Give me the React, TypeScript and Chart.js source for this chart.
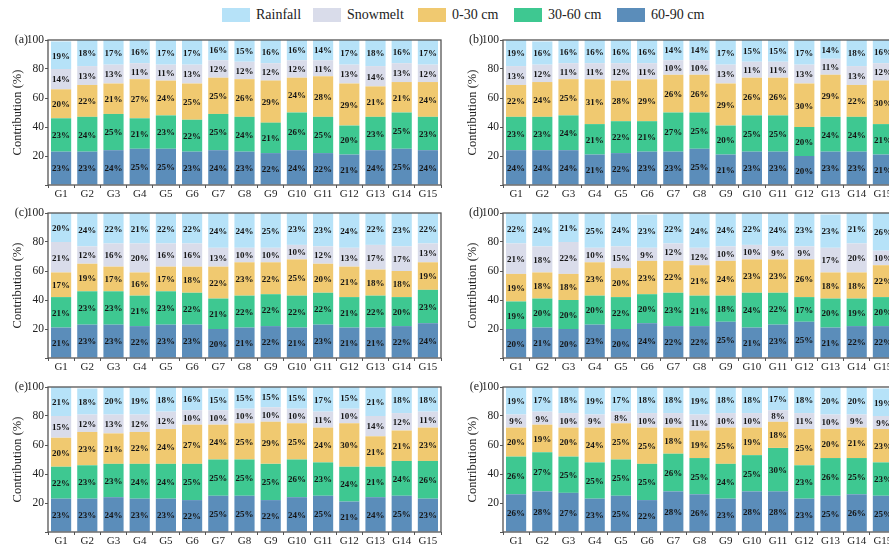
import React, { useEffect, useRef } from "react";
import { Chart, registerables } from "chart.js";

Chart.register(...registerables);

const categories = ["G1", "G2", "G3", "G4", "G5", "G6", "G7", "G8", "G9", "G10", "G11", "G12", "G13", "G14", "G15"];
const seriesNames = ["Rainfall", "Snowmelt", "0-30 cm", "30-60 cm", "60-90 cm"];
const seriesColors = ["#b6e2f8", "#d9dcea", "#f0c970", "#3ec891", "#5b8dba"];
const yTickStep = 10;

// Panel (a)
const aRainfall = [19, 18, 17, 16, 17, 17, 16, 15, 16, 16, 14, 17, 18, 16, 17];
const aSnowmelt = [14, 13, 13, 11, 11, 13, 12, 12, 12, 12, 11, 13, 14, 13, 12];
const aLayer0_30 = [20, 22, 21, 27, 24, 25, 25, 26, 29, 24, 28, 29, 21, 21, 24];
const aLayer30_60 = [23, 24, 25, 21, 23, 22, 25, 24, 21, 26, 25, 20, 23, 25, 23];
const aLayer60_90 = [23, 23, 24, 25, 25, 23, 24, 23, 22, 24, 22, 21, 24, 25, 24];

// Panel (b)
const bRainfall = [19, 16, 16, 16, 16, 16, 14, 14, 17, 15, 15, 17, 14, 18, 16];
const bSnowmelt = [13, 12, 11, 11, 12, 11, 10, 10, 13, 11, 11, 13, 11, 13, 12];
const bLayer0_30 = [22, 24, 25, 31, 28, 29, 26, 26, 29, 26, 26, 30, 29, 22, 30];
const bLayer30_60 = [23, 23, 24, 21, 22, 21, 27, 25, 20, 25, 25, 20, 24, 24, 21];
const bLayer60_90 = [24, 24, 24, 21, 22, 23, 23, 25, 21, 23, 23, 20, 23, 23, 21];

// Panel (c)
const cRainfall = [20, 24, 22, 21, 22, 22, 24, 24, 25, 23, 23, 24, 22, 23, 22];
const cSnowmelt = [21, 12, 16, 20, 16, 16, 13, 10, 10, 10, 12, 13, 17, 17, 13];
const cLayer0_30 = [17, 19, 17, 16, 17, 18, 22, 23, 22, 25, 20, 21, 18, 18, 19];
const cLayer30_60 = [21, 23, 23, 21, 23, 22, 21, 22, 22, 22, 22, 21, 22, 20, 23];
const cLayer60_90 = [21, 23, 23, 22, 23, 23, 20, 21, 22, 21, 23, 21, 21, 22, 24];

// Panel (d)
const dRainfall = [22, 24, 21, 25, 24, 23, 22, 24, 24, 22, 24, 23, 23, 21, 26];
const dSnowmelt = [21, 18, 22, 10, 15, 9, 12, 12, 10, 10, 9, 9, 17, 20, 10];
const dLayer0_30 = [19, 18, 18, 23, 20, 23, 22, 21, 24, 23, 23, 26, 18, 18, 22];
const dLayer30_60 = [19, 20, 20, 20, 22, 20, 23, 21, 18, 24, 22, 17, 20, 19, 20];
const dLayer60_90 = [20, 21, 20, 23, 20, 24, 22, 22, 25, 21, 23, 25, 21, 22, 22];

// Panel (e) left
const eRainfall = [21, 18, 20, 19, 18, 16, 15, 15, 15, 15, 17, 15, 21, 18, 18];
const eSnowmelt = [15, 12, 13, 12, 12, 10, 10, 10, 10, 10, 11, 10, 14, 12, 11];
const eLayer0_30 = [20, 23, 21, 22, 24, 27, 24, 25, 29, 25, 24, 30, 21, 21, 23];
const eLayer30_60 = [22, 23, 23, 24, 24, 25, 25, 25, 25, 26, 23, 24, 21, 24, 26];
const eLayer60_90 = [23, 23, 24, 23, 23, 22, 25, 25, 22, 24, 25, 21, 24, 25, 23];

// Panel (e) right
const fRainfall = [19, 17, 18, 19, 17, 18, 18, 19, 18, 18, 17, 18, 20, 20, 19];
const fSnowmelt = [9, 9, 10, 9, 8, 10, 10, 11, 10, 10, 8, 11, 10, 9, 9];
const fLayer0_30 = [20, 19, 20, 24, 25, 25, 18, 19, 25, 19, 18, 25, 20, 21, 23];
const fLayer30_60 = [26, 27, 25, 25, 25, 25, 26, 25, 24, 25, 30, 23, 26, 25, 23];
const fLayer60_90 = [26, 28, 27, 23, 25, 22, 28, 26, 23, 28, 28, 23, 25, 26, 25];

const SERIF = "'Liberation Serif', 'Times New Roman', serif";

const panelDecor = {
  id: "panelDecor",
  afterDatasetsDraw(chart: any) {
    const ctx = chart.ctx;
    ctx.save();
    ctx.font = `bold 9px ${SERIF}`;
    ctx.fillStyle = "#151515";
    ctx.textAlign = "center";
    ctx.textBaseline = "middle";
    chart.data.datasets.forEach((ds: any, i: number) => {
      const meta = chart.getDatasetMeta(i);
      meta.data.forEach((el: any, j: number) => {
        const p = el.getProps(["x", "y", "base"], true);
        const top = Math.max(p.y, chart.chartArea.top);
        ctx.fillText(ds.data[j] + "%", p.x, (top + p.base) / 2 + 1);
      });
    });
    ctx.restore();
  },
  afterDraw(chart: any, _args: any, opts: any) {
    const { ctx, chartArea: ca } = chart;
    ctx.save();
    ctx.strokeStyle = "#555";
    ctx.lineWidth = 1.3;
    ctx.strokeRect(ca.left, ca.top, ca.right - ca.left, ca.bottom - ca.top);
    ctx.font = `12px ${SERIF}`;
    ctx.fillStyle = "#222";
    ctx.textAlign = "right";
    ctx.textBaseline = "middle";
    ctx.fillText(opts.label, ca.left - 20, ca.top);
    ctx.restore();
  },
};

type PanelProps = {
  label: string;
  left: number;
  top: number;
  series: number[][];
};

function Panel({ label, left, top, series }: PanelProps) {
  const ref = useRef<HTMLCanvasElement | null>(null);
  useEffect(() => {
    if (!ref.current) return;
    const order = [4, 3, 2, 1, 0];
    const chart = new Chart(ref.current, {
      type: "bar",
      data: {
        labels: categories,
        datasets: order.map((k) => ({
          label: seriesNames[k],
          data: series[k],
          backgroundColor: seriesColors[k],
          borderWidth: 0,
          barPercentage: 0.77,
          categoryPercentage: 1,
        })),
      },
      options: {
        animation: false,
        responsive: false,
        layout: { padding: { left: 0, right: 4, top: 8, bottom: 0 } },
        plugins: {
          legend: { display: false },
          tooltip: { enabled: false },
          panelDecor: { label },
        } as any,
        scales: {
          x: {
            stacked: true,
            grid: { display: true, drawOnChartArea: false, tickLength: 3, color: "#555" },
            border: { display: false },
            ticks: { font: { family: SERIF, size: 11 }, color: "#222", padding: 0, maxRotation: 0, autoSkip: false },
            afterFit: (s: any) => {
              s.height = 20;
            },
          },
          y: {
            stacked: true,
            min: 0,
            max: 100,
            ticks: {
              stepSize: yTickStep,
              font: { family: SERIF, size: 11.5 },
              color: "#222",
              padding: 1,
              callback: (v: any) => (v % 20 === 0 && v > 0 ? String(v) : ""),
            },
            grid: { display: true, drawOnChartArea: false, tickLength: 3, color: "#555" },
            border: { display: false },
            title: {
              display: true,
              text: "Contribution (%)",
              font: { family: SERIF, size: 12.5 },
              color: "#222",
              padding: { top: 10, bottom: 0 },
            },
            afterFit: (s: any) => {
              s.width = 48;
            },
          },
        },
      },
      plugins: [panelDecor],
    });
    return () => chart.destroy();
  }, [label, series]);
  return (
    <div style={{ position: "absolute", left, top, width: 445, height: 173 }}>
      <canvas ref={ref} width={445} height={173} style={{ width: 445, height: 173, display: "block" }} />
    </div>
  );
}

const legendLefts = [222, 313, 418, 514, 617];

export default function App() {
  const panels = [
    { label: "(a)", left: 0, top: 32, series: [aRainfall, aSnowmelt, aLayer0_30, aLayer30_60, aLayer60_90] },
    { label: "(b)", left: 455, top: 32, series: [bRainfall, bSnowmelt, bLayer0_30, bLayer30_60, bLayer60_90] },
    { label: "(c)", left: 0, top: 205, series: [cRainfall, cSnowmelt, cLayer0_30, cLayer30_60, cLayer60_90] },
    { label: "(d)", left: 455, top: 205, series: [dRainfall, dSnowmelt, dLayer0_30, dLayer30_60, dLayer60_90] },
    { label: "(e)", left: 0, top: 379, series: [eRainfall, eSnowmelt, eLayer0_30, eLayer30_60, eLayer60_90] },
    { label: "(e)", left: 455, top: 379, series: [fRainfall, fSnowmelt, fLayer0_30, fLayer30_60, fLayer60_90] },
  ];
  return (
    <div
      style={{
        position: "fixed",
        left: 0,
        top: 0,
        width: 889,
        height: 548,
        overflow: "hidden",
        background: "#fff",
        fontFamily: SERIF,
      }}
    >
      {seriesNames.map((name, i) => (
        <div
          key={name}
          style={{
            position: "absolute",
            left: legendLefts[i],
            top: 7,
            height: 16,
            display: "flex",
            alignItems: "center",
            whiteSpace: "nowrap",
          }}
        >
          <div style={{ width: 28, height: 14, background: seriesColors[i], marginRight: 6 }} />
          <span style={{ fontSize: 14, color: "#222" }}>{name}</span>
        </div>
      ))}
      {panels.map((p, i) => (
        <Panel key={i} label={p.label} left={p.left} top={p.top} series={p.series} />
      ))}
    </div>
  );
}
